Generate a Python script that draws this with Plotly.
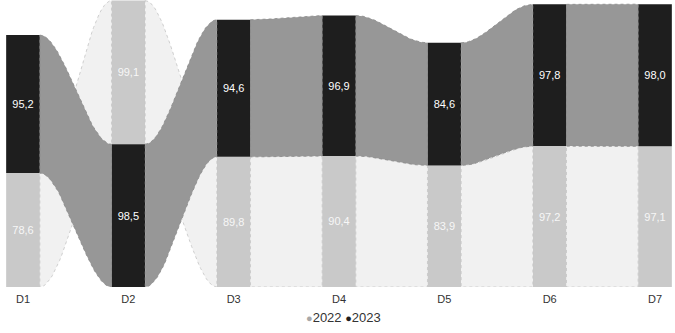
import plotly.graph_objects as go

categories = ["D1", "D2", "D3", "D4", "D5", "D6", "D7"]
series_names = ["2022", "2023"]
values_2022 = [78.6, 99.1, 89.8, 90.4, 83.9, 97.2, 97.1]
values_2023 = [95.2, 98.5, 94.6, 96.9, 84.6, 97.8, 98.0]

bar_colors = {"2022": "#c9c9c9", "2023": "#1e1e1e"}
ribbon_colors = {"2022": "#f1f1f1", "2023": "#979797"}
ribbon_lines = {"2022": "#c4c4c4", "2023": "#8a8a8a"}
label_colors = {"2022": "#f7f7f7", "2023": "#ffffff"}
legend_colors = {"2022": "#a8a8a8", "2023": "#1e1e1e"}

series = {"2022": values_2022, "2023": values_2023}
n = len(categories)
W = 0.32

# ribbon-chart stacking: smaller value at the bottom, larger on top
bases = {s: [0.0] * n for s in series_names}
for i in range(n):
    order = sorted(series_names, key=lambda s: series[s][i])
    acc = 0.0
    for s in order:
        bases[s][i] = acc
        acc += series[s][i]


def smooth(a, b, t):
    k = 3 * t * t - 2 * t * t * t
    return a + (b - a) * k


fig = go.Figure()
steps = 40
for s in series_names:
    for i in range(n - 1):
        x0 = i + W / 2
        x1 = i + 1 - W / 2
        lo0, hi0 = bases[s][i], bases[s][i] + series[s][i]
        lo1, hi1 = bases[s][i + 1], bases[s][i + 1] + series[s][i + 1]
        ts = [k / steps for k in range(steps + 1)]
        xs_top = [x0 + (x1 - x0) * t for t in ts]
        ys_top = [smooth(hi0, hi1, t) for t in ts]
        xs_bot = xs_top[::-1]
        ys_bot = [smooth(lo0, lo1, t) for t in ts][::-1]
        fig.add_trace(go.Scatter(
            x=xs_top + xs_bot + [xs_top[0]],
            y=ys_top + ys_bot + [ys_top[0]],
            fill="toself", fillcolor=ribbon_colors[s],
            line=dict(color=ribbon_lines[s], width=0.8, dash="dot"),
            mode="lines", hoverinfo="skip", showlegend=False,
        ))

for s in series_names:
    fig.add_trace(go.Bar(
        x=list(range(n)), y=series[s], base=bases[s], width=W,
        marker=dict(color=bar_colors[s], line=dict(width=0)),
        text=[f"{v:.1f}".replace(".", ",") for v in series[s]],
        textposition="inside", insidetextanchor="middle", textangle=0,
        textfont=dict(color=label_colors[s], size=11, family="Liberation Sans"),
        showlegend=False, name=s,
    ))

legend_text = " ".join(
    f"<span style='color:{legend_colors[s]};font-size:11px'>●</span>{s}" for s in series_names
)
fig.add_annotation(
    xref="paper", yref="paper", x=0.505, y=-0.108, xanchor="center", yanchor="middle",
    text=legend_text, showarrow=False,
    font=dict(size=13, color="#333333", family="Liberation Sans"),
)

fig.update_layout(
    width=675, height=333,
    margin=dict(l=5, r=0, t=0, b=46, autoexpand=False),
    plot_bgcolor="white", paper_bgcolor="white",
    barmode="overlay", showlegend=False,
    font=dict(family="Liberation Sans", size=11, color="#333333"),
    xaxis=dict(range=[-0.171, 6.19], tickmode="array", tickvals=list(range(n)),
               ticktext=categories, showgrid=False, zeroline=False, showline=False,
               ticks="", automargin=False, ticklabelstandoff=4,
               tickfont=dict(size=11, color="#333333")),
    yaxis=dict(range=[0, 198], visible=False, showgrid=False, zeroline=False,
               automargin=False),
)

fig.write_html("out.html", config={"displayModeBar": False},
               post_script="document.body.style.margin='0';")
